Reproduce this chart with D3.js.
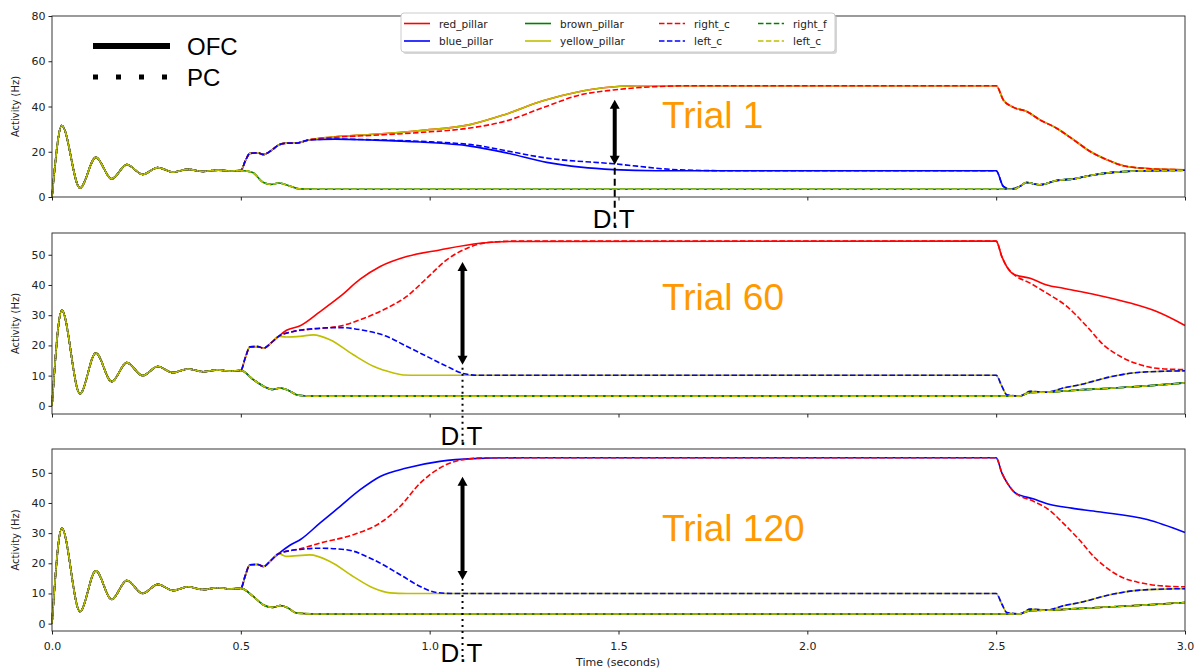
<!DOCTYPE html>
<html><head><meta charset="utf-8">
<script src="https://cdn.jsdelivr.net/npm/d3@7"></script>
<style>body{margin:0;background:#fff}text{font-family:"DejaVu Sans",sans-serif}</style>
</head><body><svg id="c" width="1199" height="670"></svg>
<script>
// ---------- data ----------
const timeTicks = [0, 0.5, 1.0, 1.5, 2.0, 2.5, 3.0];
const yTicks1 = [0, 20, 40, 60, 80];
const yTicks23 = [0, 10, 20, 30, 40, 50];
const seriesNames = ["red_pillar","blue_pillar","brown_pillar","yellow_pillar","right_c","left_c","right_f","left_c"];
const trialLabels = ["Trial 1", "Trial 60", "Trial 120"];
const trialLabelLevels = [30.6, 31.8, 27.5];
const decisionTimes = [1.49, 1.087, 1.087];
const arrowSpans = [[43, 14.3], [47.6, 13.6], [48.7, 14.5]];

// shared start (0 - 0.5 s)
const onset = [[0,0],[0.026,31.6],[0.074,4],[0.116,17.5],[0.158,8],[0.198,14.3],[0.24,10],[0.28,13],[0.32,11],[0.36,12.2],[0.40,11.3],[0.44,11.9],[0.47,11.5],[0.5,11.7]];

// Trial 1
const t1_rise = [[0.512,16],[0.524,19.3],[0.545,19.5],[0.56,18.8],[0.58,20.5],[0.6,23],[0.62,23.8],[0.645,23.8],[0.683,25.3]];
const t1_yellow = [[0.75,26.6],[0.843,27.6],[0.975,29.4],[1.107,32],[1.2,36.5],[1.3,42.5],[1.398,46.6],[1.46,48.3],[1.55,49.2],[2.5,49.2]];
const t1_redDash = [[0.75,26.4],[0.843,27.2],[0.975,28.5],[1.107,30.5],[1.2,33.5],[1.3,39.5],[1.398,45.1],[1.486,47.3],[1.6,48.8],[1.7,49.2],[2.5,49.2]];
const t1_decay = [[2.519,42.9],[2.546,39.6],[2.581,37.8],[2.616,34.1],[2.66,30.4],[2.705,25.3],[2.749,20.1],[2.793,16.5],[2.837,13.8],[2.899,12.6],[3.0,12.0]];
const t1_blue = [[0.75,25.6],[0.843,25.2],[0.975,24.3],[1.107,22.5],[1.2,19.6],[1.31,15.3],[1.4,13.2],[1.487,12.1],[1.6,11.6],[2.5,11.6]];
const t1_blueDash = [[0.75,25.6],[0.843,25.3],[0.975,24.6],[1.133,22.6],[1.2,20.5],[1.31,17.2],[1.487,14.7],[1.663,12],[1.8,11.6],[2.5,11.6]];
const t1_dip = [[2.519,4.7],[2.537,3.5],[2.563,4.7],[2.58,6.4],[2.616,5.4],[2.66,7.3],[2.705,8.0],[2.749,9.5],[2.81,10.9],[2.899,11.6],[3.0,11.8]];
const t1_low = [[0.53,10.9],[0.56,6.4],[0.58,5.6],[0.6,6.2],[0.62,5.4],[0.655,3.6],[0.7,3.4],[2.5,3.4],[2.545,3.4]];

// Trial 60
const t2_rise = [[0.512,16],[0.524,19.5],[0.545,19.6],[0.56,19.1],[0.58,20.8],[0.6,23]];
const t2_red = [[0.621,25],[0.657,26.5],[0.71,31.2],[0.763,36.2],[0.816,41.9],[0.869,46.1],[0.939,49.4],[1.027,51.6],[1.133,53.8],[1.22,54.4],[2.5,54.5]];
const t2_redDecay = [[2.515,49.4],[2.528,46.1],[2.546,43.6],[2.59,42.2],[2.634,40],[2.678,38.9],[2.766,36.7],[2.855,34],[2.925,31.2],[3.0,26.6]];
const t2_redDash = [[0.639,24.6],[0.71,25.6],[0.763,26.4],[0.816,28.5],[0.886,32.3],[0.939,36.2],[0.992,42.2],[1.045,48.3],[1.098,52.1],[1.15,54],[1.22,54.5],[2.5,54.5]];
const t2_redDashDecay = [[2.515,49.4],[2.528,46.1],[2.546,43.6],[2.59,40.6],[2.634,37.3],[2.687,32.9],[2.74,26.3],[2.784,20.2],[2.828,16.4],[2.881,13.6],[2.934,12.3],[3.0,12.0]];
const t2_blueDash = [[0.639,24.6],[0.71,25.7],[0.763,25.9],[0.816,25.2],[0.886,23],[0.939,19.7],[0.992,16.4],[1.045,13.1],[1.089,10.7],[1.13,10.1],[2.5,10.1]];
const t2_yellow = [[0.62,22.8],[0.657,23],[0.692,23.5],[0.736,21.9],[0.798,16.9],[0.851,13.1],[0.904,10.9],[0.93,10.2],[0.97,10.1],[2.5,10.1]];
const t2_dip = [[2.515,6.5],[2.528,3.7],[2.563,3.2],[2.59,4.8],[2.634,4.5],[2.678,5.9],[2.722,7.0],[2.81,9.8],[2.881,11.1],[3.0,11.6]];
const t2_low = [[0.533,8.7],[0.56,6.5],[0.585,5.4],[0.604,5.9],[0.625,5.2],[0.652,3.5],[0.7,3.2],[2.5,3.2],[2.56,3.2]];
const t2_lowEnd = [[2.59,4.4],[2.65,4.6],[2.7,5.1],[2.81,5.9],[2.9,6.6],[3.0,7.6]];

// Trial 120
const t3_rise = [[0.512,16],[0.524,19.5],[0.545,19.6],[0.56,18.9],[0.58,21],[0.6,23.2]];
const t3_blue = [[0.63,26],[0.657,27.8],[0.71,33.4],[0.763,38.9],[0.816,44.4],[0.869,48.8],[0.939,51.6],[1.027,53.8],[1.116,54.7],[1.25,55],[2.5,55]];
const t3_blueDecay = [[2.515,50],[2.53,46.5],[2.55,43.4],[2.6,41.3],[2.64,39.6],[2.7,38.3],[2.77,37.1],[2.9,34.5],[3.0,30.2]];
const t3_redDash = [[0.657,24.8],[0.71,26.7],[0.798,29.5],[0.869,33.4],[0.922,38.9],[0.975,46.6],[1.027,51.6],[1.08,54.2],[1.15,55],[2.5,55]];
const t3_redDashDecay = [[2.515,50],[2.53,46.5],[2.55,43.4],[2.6,40.5],[2.64,37.7],[2.68,33],[2.72,27.8],[2.76,22],[2.8,17.8],[2.84,15],[2.88,13.6],[2.94,12.5],[3.0,12.2]];
const t3_blueDash = [[0.657,24.6],[0.71,25],[0.78,24.5],[0.851,21.2],[0.922,16.2],[0.975,12.3],[1.018,10.3],[1.06,10],[2.5,10]];
const t3_yellow = [[0.62,22.3],[0.683,22.8],[0.736,20.6],[0.798,15.6],[0.851,11.8],[0.895,10.2],[0.94,10],[2.5,10]];
const t3_dip = [[2.515,6.5],[2.528,3.7],[2.563,3.2],[2.59,4.8],[2.634,4.5],[2.678,5.9],[2.722,7.0],[2.81,9.8],[2.881,11.1],[3.0,11.6]];
const t3_low = [[0.533,9],[0.56,6.2],[0.585,5.4],[0.604,6.0],[0.625,5.2],[0.648,3.5],[0.7,3.2],[2.5,3.2],[2.56,3.2]];
const t3_lowEnd = [[2.59,4.3],[2.65,4.5],[2.7,4.9],[2.81,5.6],[2.9,6.2],[3.0,7.0]];

const j = (...parts) => [].concat(...parts);
const low1 = j(onset, t1_low, t1_dip.slice(2));
const low2 = j(onset, t2_low, t2_lowEnd);
const low3 = j(onset, t3_low, t3_lowEnd);
const panelSeries = [
  [ j(onset,t1_rise,t1_yellow,t1_decay), j(onset,t1_rise,t1_blue,t1_dip), low1, j(onset,t1_rise,t1_yellow,t1_decay),
    j(onset,t1_rise,t1_redDash,t1_decay), j(onset,t1_rise,t1_blueDash,t1_dip), low1, low1 ],
  [ j(onset,t2_rise,t2_red,t2_redDecay), low2, low2, j(onset,t2_rise,t2_yellow,t2_dip),
    j(onset,t2_rise,t2_redDash,t2_redDashDecay), j(onset,t2_rise,t2_blueDash,t2_dip), low2, low2 ],
  [ low3, j(onset,t3_rise,t3_blue,t3_blueDecay), low3, j(onset,t3_rise,t3_yellow,t3_dip),
    j(onset,t3_rise,t3_redDash,t3_redDashDecay), j(onset,t3_rise,t3_blueDash,t3_dip), low3, low3 ]
];

// ---------- layout / style ----------
const colors = ["#ff0000","#0000ff","#008000","#bfbf00","#ff0000","#0000ff","#008000","#bfbf00"];
const dashed = [false,false,false,false,true,true,true,true];
const panels = [
  {top:16, bottom:197, dom:[0,80], ticks:yTicks1},
  {top:233, bottom:414, dom:[-2.7,57.2], ticks:yTicks23},
  {top:449, bottom:631, dom:[-2.45,57.9], ticks:yTicks23}
];
const left = 52, right = 1185;
const svg = d3.select("#c");
const x = d3.scaleLinear().domain([0,3]).range([left,right]);

panels.forEach((p, pi) => {
  const y = d3.scaleLinear().domain(p.dom).range([p.bottom, p.top]);
  const g = svg.append("g");
  const line = d3.line().x(d=>x(d[0])).y(d=>y(d[1])).curve(d3.curveMonotoneX);
  panelSeries[pi].forEach((s, si) => {
    g.append("path").attr("d", line(s)).attr("fill","none")
      .attr("stroke", colors[si]).attr("stroke-width",1.6)
      .attr("stroke-dasharray", dashed[si] ? "5.5,2.4" : null);
  });
  // frame
  g.append("rect").attr("x",left).attr("y",p.top).attr("width",right-left).attr("height",p.bottom-p.top)
    .attr("fill","none").attr("stroke","#222").attr("stroke-width",0.9);
  const xa = svg.append("g").attr("transform",`translate(0,${p.bottom})`)
    .call(d3.axisBottom(x).tickValues(timeTicks).tickSize(3.5).tickSizeOuter(0)
      .tickFormat(pi===2 ? d3.format(".1f") : ""));
  const ya = svg.append("g").attr("transform",`translate(${left},0)`)
    .call(d3.axisLeft(y).tickValues(p.ticks).tickSize(3.5).tickSizeOuter(0));
  [xa, ya].forEach(a => {
    a.select(".domain").remove();
    a.selectAll("line").attr("stroke","#222");
    a.selectAll("text").attr("fill","#222").style("font-size","11px").style("font-family","DejaVu Sans");
  });
  xa.selectAll("text").attr("dy","1.1em");
  svg.append("text").attr("transform",`translate(19,${(p.top+p.bottom)/2}) rotate(-90)`)
    .attr("text-anchor","middle").style("font-size","10px").attr("fill","#222").text("Activity (Hz)");

  // trial label
  svg.append("text").attr("x",662).attr("y",y(trialLabelLevels[pi]))
    .style("font-family","Liberation Sans, Arial").style("font-size","37px").attr("fill","#ff9900")
    .text(trialLabels[pi]);

  // decision-time arrow
  const ax = x(decisionTimes[pi]);
  const [va, vb] = arrowSpans[pi];
  const ya1 = y(va), yb1 = y(vb);
  svg.append("line").attr("x1",ax).attr("x2",ax).attr("y1",ya1+6).attr("y2",yb1-6)
    .attr("stroke","#000").attr("stroke-width",4);
  svg.append("path").attr("d",`M${ax},${ya1} l-5,9 l10,0 z M${ax},${yb1} l-5,-9 l10,0 z`).attr("fill","#000");
  svg.append("line").attr("x1",ax).attr("x2",ax).attr("y1",yb1+3).attr("y2",p.bottom+ (pi===0?30:28))
    .attr("stroke","#000").attr("stroke-width",2)
    .attr("stroke-dasharray", pi===0 ? "7,4" : "2,4");
  svg.append("text").attr("x",ax-1).attr("y",p.bottom+31).attr("text-anchor","middle")
    .style("font-family","Liberation Sans, Arial").style("font-size","26px").attr("fill","#000").text("D.T");
});

svg.append("text").attr("x",618).attr("y",666).attr("text-anchor","middle")
  .style("font-size","11px").attr("fill","#222").text("Time (seconds)");

// OFC / PC key
svg.append("line").attr("x1",93).attr("x2",170).attr("y1",46).attr("y2",46).attr("stroke","#000").attr("stroke-width",6);
svg.append("line").attr("x1",93).attr("x2",170).attr("y1",77).attr("y2",77).attr("stroke","#000").attr("stroke-width",5)
  .attr("stroke-dasharray","5,18");
svg.append("text").attr("x",187).attr("y",55).style("font-family","Liberation Sans, Arial").style("font-size","24px").text("OFC");
svg.append("text").attr("x",187).attr("y",86).style("font-family","Liberation Sans, Arial").style("font-size","24px").text("PC");

// legend
const lg = svg.append("g");
lg.append("rect").attr("x",403).attr("y",15).attr("width",434).attr("height",39).attr("rx",3).attr("fill","#bbb").attr("opacity",0.6);
lg.append("rect").attr("x",401).attr("y",13).attr("width",434).attr("height",39).attr("rx",3).attr("fill","#fff").attr("stroke","#ccc");
const colX = [404, 525, 659, 758];
seriesNames.forEach((n, i) => {
  const col = i < 4 ? Math.floor(i/2) : 2 + Math.floor((i-4)/2);
  const row = i % 2;
  const cx = colX[col], cy = row ? 41 : 23.5;
  lg.append("line").attr("x1",cx).attr("x2",cx+26).attr("y1",cy).attr("y2",cy)
    .attr("stroke",colors[i]).attr("stroke-width",1.6).attr("stroke-dasharray", dashed[i] ? "5.5,2.4" : null);
  lg.append("text").attr("x",cx+35).attr("y",cy+4).style("font-size","10.5px").attr("fill","#222").text(n);
});
</script></body></html>
